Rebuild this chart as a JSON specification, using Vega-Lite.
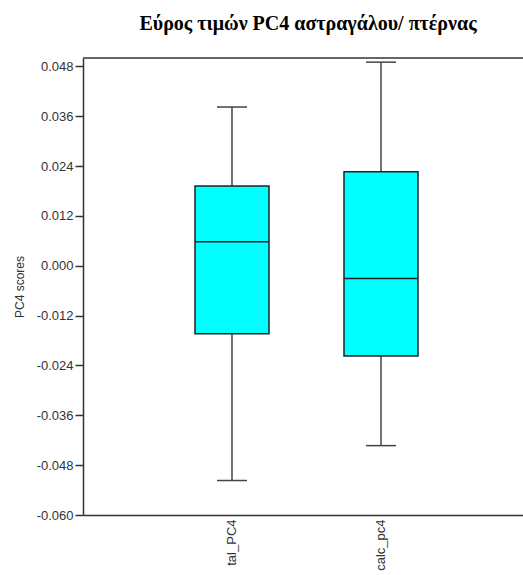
{
  "$schema": "https://vega.github.io/schema/vega-lite/v6.json",
  "width": 440,
  "height": 457,
  "autosize": {"type": "none"},
  "padding": {"left": 83, "top": 58, "right": 0, "bottom": 60},
  "title": {
    "text": "Εύρος τιμών PC4 αστραγάλου/ πτέρνας",
    "font": "Liberation Serif",
    "fontSize": 20,
    "fontWeight": "bold",
    "color": "#000000",
    "anchor": "middle",
    "offset": 23,
    "dx": 5
  },
  "data": {
    "values": [
      {"cat": "tal_PC4", "min": -0.0517, "q1": -0.0164, "median": 0.0058, "q3": 0.0192, "max": 0.0382},
      {"cat": "calc_pc4", "min": -0.0433, "q1": -0.0217, "median": -0.0031, "q3": 0.0226, "max": 0.0490}
    ]
  },
  "encoding": {
    "x": {
      "field": "cat",
      "type": "nominal",
      "sort": null,
      "scale": {"type": "point", "padding": 0.9765, "align": 0.512},
      "axis": {
        "title": null,
        "labelAngle": -90,
        "labelAlign": "right",
        "labelBaseline": "middle",
        "ticks": false,
        "grid": false,
        "labelPadding": 4,
        "labelFont": "Liberation Sans",
        "labelFontSize": 13,
        "labelColor": "#333333",
        "domainColor": "#333333",
        "domainWidth": 1.5
      }
    }
  },
  "layer": [
    {
      "mark": {"type": "rule", "color": "#444444", "strokeWidth": 1.5},
      "encoding": {
        "y": {
          "field": "min",
          "type": "quantitative",
          "scale": {"domain": [-0.06, 0.05], "nice": false, "zero": false},
          "axis": {
            "title": "PC4 scores",
            "titleFont": "Liberation Sans",
            "titleFontSize": 12,
            "titleFontWeight": "normal",
            "titleColor": "#333333",
            "titlePadding": 10,
            "values": [-0.06, -0.048, -0.036, -0.024, -0.012, 0, 0.012, 0.024, 0.036, 0.048],
            "labelExpr": "replace(format(datum.value, '.3f'), '\u2212', '-')",
            "labelFont": "Liberation Sans",
            "labelFontSize": 13,
            "labelColor": "#333333",
            "tickSize": 8,
            "tickColor": "#333333",
            "tickWidth": 1.5,
            "labelPadding": 2,
            "grid": false,
            "domainColor": "#333333",
            "domainWidth": 1.5
          }
        },
        "y2": {"field": "max"}
      }
    },
    {
      "mark": {"type": "bar", "fill": "#00FFFF", "stroke": "#222222", "strokeWidth": 1.5, "size": 74},
      "encoding": {
        "y": {"field": "q1", "type": "quantitative"},
        "y2": {"field": "q3"}
      }
    },
    {
      "mark": {"type": "tick", "color": "#222222", "size": 74, "thickness": 1.5, "opacity": 1},
      "encoding": {"y": {"field": "median", "type": "quantitative"}}
    },
    {
      "mark": {"type": "tick", "color": "#444444", "size": 30, "thickness": 1.5, "opacity": 1},
      "encoding": {"y": {"field": "min", "type": "quantitative"}}
    },
    {
      "mark": {"type": "tick", "color": "#444444", "size": 30, "thickness": 1.5, "opacity": 1},
      "encoding": {"y": {"field": "max", "type": "quantitative"}}
    },
    {
      "data": {"values": [{"top": 0.05}]},
      "mark": {"type": "rule", "color": "#333333", "strokeWidth": 1.5},
      "encoding": {
        "x": null,
        "y": {"field": "top", "type": "quantitative"}
      }
    }
  ],
  "config": {
    "view": {"stroke": "#ffffff", "fill": "#ffffff"},
    "axis": {"grid": false},
    "background": "#ffffff"
  }
}
